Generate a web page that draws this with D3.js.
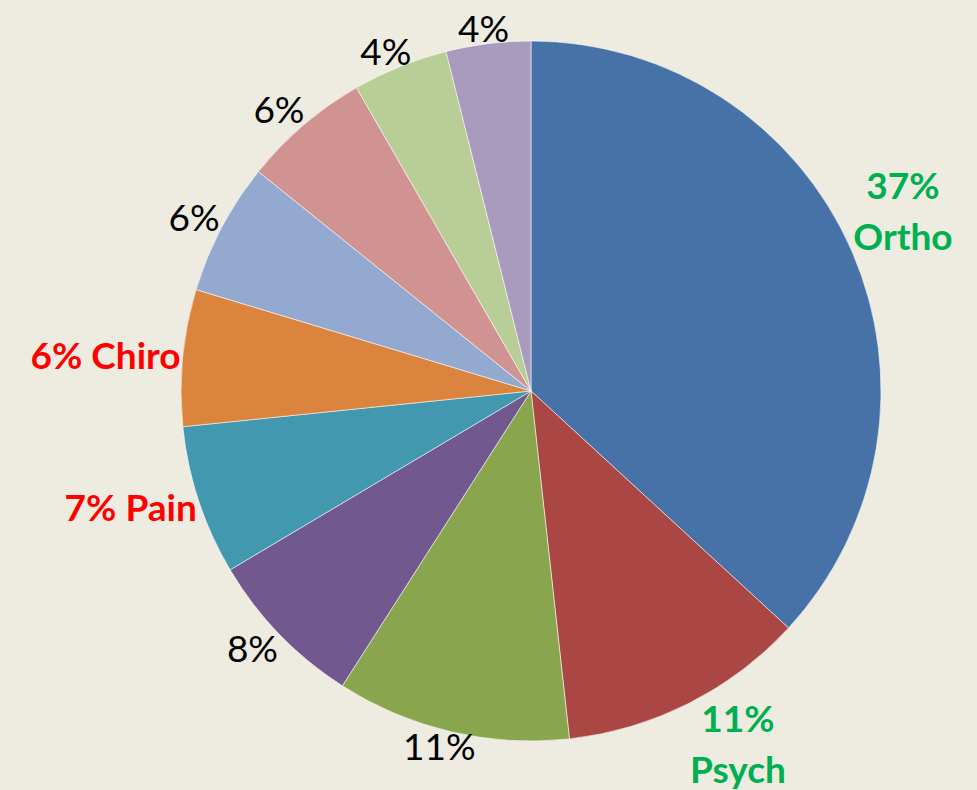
<!DOCTYPE html>
<html>
<head>
<meta charset="utf-8">
<script src="https://cdn.jsdelivr.net/npm/d3@7"></script>
<style>
  body { margin: 0; background: #EEECE1; }
  svg { display: block; }
</style>
</head>
<body>
<svg id="chart" width="977" height="790"></svg>
<script>
// slices, clockwise from 12 o'clock
var names = ["Ortho", "Psych", "", "", "Pain", "Chiro", "", "", "", ""]
var shares = [36.8, 11.4, 10.8, 7.4, 6.9, 6.3, 6.1, 5.9, 4.4, 3.9]
var pcts = ["37%", "11%", "11%", "8%", "7%", "6%", "6%", "6%", "4%", "4%"]
var labelLines = [["37%", "Ortho"], ["11%", "Psych"], ["11%"], ["8%"], ["7% Pain"], ["6% Chiro"], ["6%"], ["6%"], ["4%"], ["4%"]]
var labelKind = ["good", "good", "plain", "plain", "bad", "bad", "plain", "plain", "plain", "plain"]
var sliceColors = ["#4672A7", "#AA4643", "#89A54E", "#71588F", "#4198AF", "#DB843D", "#93A9CF", "#D19392", "#B9CD96", "#A99BBD"]

var kindColor = { good: "#00B050", bad: "#FF0000", plain: "#000000" }

var svg = d3.select("#chart")
var cx = 531, cy = 391, R = 350
var lineH = 51, fs = 37

var rows = shares.map(function (v, i) { return { i: i, v: v } })

var pie = d3.pie().sort(null).value(function (d) { return d.v })
var arc = d3.arc().innerRadius(0).outerRadius(R)

var g = svg.append("g").attr("transform", "translate(" + cx + "," + cy + ")")

var arcs = pie(rows)

g.selectAll("path.slice")
  .data(arcs)
  .join("path")
  .attr("class", "slice")
  .attr("d", arc)
  .attr("fill", function (d) { return sliceColors[d.data.i] })
  .attr("stroke", "rgba(255,255,255,0.55)")
  .attr("stroke-width", 1)

function clamp(t, k) { return Math.max(-1, Math.min(1, t * k)) }

// labels sit just outside the rim, pushed out by half their (ink) box
var labels = g.selectAll("g.lbl")
  .data(arcs)
  .join("g")
  .attr("class", "lbl")

labels.each(function (d) {
  var lines = labelLines[d.data.i]
  var kind = labelKind[d.data.i]
  var t = d3.select(this).append("text")
    .attr("text-anchor", "middle")
    .style("font-family", "Lato, 'Open Sans', sans-serif")
    .style("font-size", fs + "px")
    .style("font-weight", kind == "plain" ? 400 : 700)
    .attr("fill", kindColor[kind])
  lines.forEach(function (s, k) {
    t.append("tspan").attr("x", 0).attr("y", k * lineH).text(s)
  })
  var bb = t.node().getBBox()
  var capH = fs * 0.72
  var inkH = (lines.length - 1) * lineH + capH
  var k = lines.length > 1 ? 3 : 1.4
  var a = (d.startAngle + d.endAngle) / 2
  var sx = Math.sin(a), sy = -Math.cos(a)
  var r0 = R + 2
  var px = sx * r0 + clamp(sx, k) * bb.width / 2
  var py = sy * r0 + clamp(sy, k) * inkH / 2
  // ink box: from -capH (top of first line) to last baseline
  var ox = px - (bb.x + bb.width / 2)
  var oy = py - (-capH + inkH / 2)
  t.attr("transform", "translate(" + ox + "," + oy + ")")
})
</script>
</body>
</html>
